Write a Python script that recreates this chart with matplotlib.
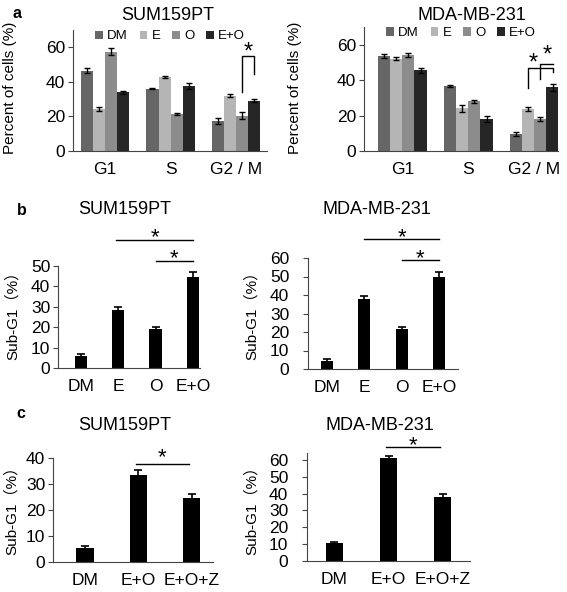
import numpy as np
import matplotlib
matplotlib.use("Agg")
import matplotlib.pyplot as plt
from matplotlib.transforms import offset_copy

plt.rcParams['font.family'] = ['Liberation Sans', 'Noto Sans CJK SC', 'DejaVu Sans']

W, H = 567, 592

# ---- panel a: cell cycle ----
phases = ["G1", "S", "G2 / M"]
treat_a = ["DM", "E", "O", "E+O"]
colors_a = ["#666666", "#b5b5b5", "#8c8c8c", "#262626"]

sum_cycle = np.array([[46.5, 24.5, 57.5, 34.0],
                      [36.0, 43.0, 21.5, 37.5],
                      [17.5, 32.0, 20.5, 29.0]])
sum_cycle_err = np.array([[1.5, 1.2, 2.0, 0.8],
                          [0.3, 0.5, 0.5, 1.8],
                          [1.8, 1.0, 2.2, 0.8]])
mda_cycle = np.array([[53.5, 52.0, 54.0, 45.5],
                      [36.5, 24.0, 28.0, 18.0],
                      [9.5, 23.5, 18.0, 36.0]])
mda_cycle_err = np.array([[1.2, 0.8, 1.2, 1.5],
                          [0.5, 2.0, 1.0, 1.5],
                          [1.2, 1.2, 1.0, 2.0]])

# ---- panel b: sub-G1 ----
treat_b = ["DM", "E", "O", "E+O"]
sum_subg1 = [6.0, 28.5, 19.0, 44.5]
sum_subg1_err = [1.0, 1.2, 1.2, 2.5]
mda_subg1 = [4.5, 38.0, 21.5, 49.5]
mda_subg1_err = [0.8, 1.2, 1.2, 3.0]

# ---- panel c: sub-G1 with Z ----
treat_c = ["DM", "E+O", "E+O+Z"]
sum_subg1_z = [5.5, 33.5, 24.5]
sum_subg1_z_err = [0.8, 1.8, 1.5]
mda_subg1_z = [10.5, 61.0, 38.0]
mda_subg1_z_err = [0.5, 1.5, 1.5]


def box(l, t, r, b):
    return [l / W, 1 - b / H, (r - l) / W, (b - t) / H]


def style(ax, ypad=2):
    for s in ["top", "right"]:
        ax.spines[s].set_visible(False)
    ax.spines["left"].set_color("#444444")
    ax.spines["bottom"].set_color("#444444")
    ax.tick_params(axis="x", length=0, labelsize=12.5, pad=8)
    ax.tick_params(axis="y", length=3.5, color="#444444", labelsize=12.5, pad=ypad)


def ylab_at(ax, text, px, py, l, t, r, b, size=11):
    # px = right edge of the rotated label, in pixels
    ax.set_ylabel(text, fontsize=size)
    ax.yaxis.set_label_coords((px - l) / (r - l), (b - py) / (b - t))


def star(ax, x, y, size=16):
    # the asterisk glyph sits high in its box, so nudge it down
    tr = offset_copy(ax.transData, fig=fig, y=-4, units="points")
    ax.text(x, y, "*", ha="center", va="center", fontsize=size, clip_on=False, transform=tr)


fig = plt.figure(figsize=(W / 100, H / 100), dpi=100)


def cycle_panel(rect, data, err, xlim, ylab_px, title, title_px):
    ax = fig.add_axes(box(*rect))
    x = np.arange(len(phases))
    bw = 0.185
    for i, t in enumerate(treat_a):
        ax.bar(x + (i - 1.5) * bw, data[:, i], bw, color=colors_a[i], label=t,
               yerr=err[:, i], capsize=2.5,
               error_kw=dict(elinewidth=1, capthick=1, ecolor="black"))
    ax.set_xticks(x)
    ax.set_xticklabels(phases)
    ax.set_xlim(*xlim)
    ax.set_ylim(0, 70)
    ax.set_yticks([0, 20, 40, 60])
    style(ax)
    ylab_at(ax, "Percent of cells (%)", ylab_px[0], ylab_px[1], *rect, size=11)
    ax.legend(loc="upper center", bbox_to_anchor=(0.5, 1.04), ncol=4, frameon=False,
              fontsize=9.5, handlelength=0.6, handleheight=0.6, handletextpad=0.3,
              columnspacing=0.9, borderaxespad=0)
    fig.text(title_px[0] / W, 1 - title_px[1] / H, title, ha="center", va="center", fontsize=13)
    return ax


def sub_panel(rect, cats, vals, errs, xlim, ylim, yticks, bw, title, title_px, ylab_px, ypad=2):
    ax = fig.add_axes(box(*rect))
    x = np.arange(len(cats))
    ax.bar(x, vals, bw, color="black", yerr=errs, capsize=3,
           error_kw=dict(elinewidth=1.2, capthick=1.2, ecolor="black"))
    ax.set_xticks(x)
    ax.set_xticklabels(cats)
    ax.set_xlim(*xlim)
    ax.set_ylim(*ylim)
    ax.set_yticks(yticks)
    style(ax, ypad)
    ylab_at(ax, "Sub-G1（%）", ylab_px[0], ylab_px[1], *rect, size=11)
    fig.text(title_px[0] / W, 1 - title_px[1] / H, title, ha="center", va="center", fontsize=13)
    return ax


def hline_star(ax, x0, x1, y, ys):
    ax.plot([x0, x1], [y, y], color="black", lw=1, clip_on=False)
    star(ax, (x0 + x1) / 2, ys)


# panel a
axa1 = cycle_panel((73, 30, 267, 151), sum_cycle, sum_cycle_err, (-0.49, 2.47),
                   (17, 88), "SUM159PT", (168, 15))
xo, xeo = 2 + 0.5 * 0.185, 2 + 1.5 * 0.185
axa1.plot([xo, xo, xeo, xeo], [34, 54.8, 54.8, 44.4], color="black", lw=1, clip_on=False)
star(axa1, (xo + xeo) / 2, 60, size=17)

axa2 = cycle_panel((364, 27, 558, 151), mda_cycle, mda_cycle_err, (-0.58, 2.36),
                   (302, 88), "MDA-MB-231", (472, 15))
xe, xo, xeo = 2 - 0.5 * 0.185, 2 + 0.5 * 0.185, 2 + 1.5 * 0.185
axa2.plot([xe, xe, xeo, xeo], [35.7, 47, 47, 44.7], color="black", lw=1, clip_on=False)
axa2.plot([xo, xo, xeo], [40.7, 49.2, 49.2], color="black", lw=1, clip_on=False)
star(axa2, xe + 0.08, 52.6, size=17)
star(axa2, xo + 0.1, 57.2, size=17)

fig.text(17 / W, 1 - 13 / H, "a", fontsize=11.5, fontweight="bold", ha="center", va="center")

# panel b
axb1 = sub_panel((58, 266, 200, 368), treat_b, sum_subg1, sum_subg1_err, (-0.61, 3.19),
                 (0, 50), [0, 10, 20, 30, 40, 50], 0.33, "SUM159PT", (125, 210), (20, 312))
hline_star(axb1, 0.95, 3.0, 62.7, 66.7)
hline_star(axb1, 2.0, 3.0, 52.4, 56.4)

axb2 = sub_panel((308, 258, 458, 369), treat_b, mda_subg1, mda_subg1_err, (-0.5, 3.5),
                 (0, 60), [0, 10, 20, 30, 40, 50, 60], 0.32, "MDA-MB-231", (377, 210), (259, 312),
                 ypad=10)
hline_star(axb2, 1.0, 3.0, 70.3, 74.0)
hline_star(axb2, 2.0, 3.0, 58.9, 62.7)

fig.text(22 / W, 1 - 211 / H, "b", fontsize=11.5, fontweight="bold", ha="center", va="center")

# panel c
axc1 = sub_panel((53, 458, 213, 562), treat_c, sum_subg1_z, sum_subg1_z_err, (-0.6, 2.4),
                 (0, 40), [0, 10, 20, 30, 40], 0.32, "SUM159PT", (125, 425), (19, 507))
hline_star(axc1, 0.95, 1.95, 37.7, 42.3)

axc2 = sub_panel((307, 453, 470, 561), treat_c, mda_subg1_z, mda_subg1_z_err, (-0.5, 2.5),
                 (0, 64), [0, 10, 20, 30, 40, 50, 60], 0.31, "MDA-MB-231", (380, 425), (259, 507),
                 ypad=10)
hline_star(axc2, 0.95, 1.95, 67.7, 71.9)

fig.text(21 / W, 1 - 413 / H, "c", fontsize=11.5, fontweight="bold", ha="center", va="center")

fig.savefig("out.png", dpi=100)
